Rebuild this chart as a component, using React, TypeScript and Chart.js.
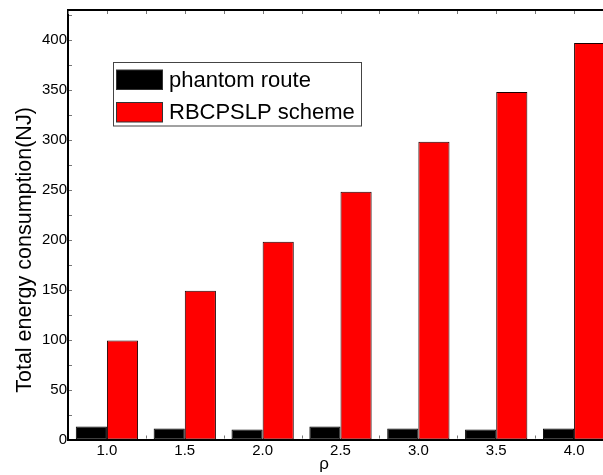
import React, { useEffect, useRef } from "react";
import { Chart, registerables } from "chart.js";

Chart.register(...registerables);

const categories = ["1.0", "1.5", "2.0", "2.5", "3.0", "3.5", "4.0"];
const phantomRoute = [13, 11, 10, 13, 11, 10, 11];
const rbcpslpScheme = [99, 149, 198, 248, 298, 348, 397];
const yTickValues = [0, 50, 100, 150, 200, 250, 300, 350, 400];
const yMinorValues = [25, 75, 125, 175, 225, 275, 325, 375, 425];
const seriesNames = ["phantom route", "RBCPSLP scheme"];
const xTitle = "ρ";
const yTitle = "Total energy consumption(NJ)";

const FONT = "'Liberation Sans', Arial, sans-serif";

const decorPlugin = {
  id: "decor",
  afterDraw(chart: any) {
    const ctx = chart.ctx;
    const area = chart.chartArea;
    const xs = chart.scales.x;
    const ys = chart.scales.y;
    ctx.save();
    // top frame
    ctx.strokeStyle = "#000";
    ctx.lineWidth = 2;
    ctx.beginPath();
    ctx.moveTo(area.left - 1, area.top);
    ctx.lineTo(area.right, area.top);
    ctx.stroke();

    // inner tick marks
    ctx.strokeStyle = "#777";
    ctx.lineWidth = 1;
    const n = categories.length;
    const step = (area.right - area.left) / n;
    ctx.beginPath();
    for (let i = 0; i <= 2 * n; i++) {
      const x = Math.round(area.left + (i * step) / 2) + 0.5;
      ctx.moveTo(x, area.top + 1);
      ctx.lineTo(x, area.top + 4);
      if (i % 2 === 0 && i > 0) {
        ctx.moveTo(x, area.bottom - 1);
        ctx.lineTo(x, area.bottom - 4);
      }
    }
    [...yTickValues, ...yMinorValues].forEach((v) => {
      const y = Math.round(ys.getPixelForValue(v)) + 0.5;
      if (y < area.top + 2 || y > area.bottom - 2) return;
      ctx.moveTo(area.left + 1, y);
      ctx.lineTo(area.left + 4, y);
    });
    ctx.stroke();

    // legend
    const lx = 113.5, ly = 62.5, lw = 248, lh = 63.5;
    ctx.fillStyle = "#fff";
    ctx.fillRect(lx, ly, lw, lh);
    ctx.strokeStyle = "#444";
    ctx.lineWidth = 1;
    ctx.strokeRect(lx, ly, lw, lh);
    const colors = ["#000000", "#ff0000"];
    const swY = [70, 102.5];
    ctx.font = `22px ${FONT}`;
    ctx.textAlign = "left";
    ctx.textBaseline = "middle";
    seriesNames.forEach((name, i) => {
      ctx.fillStyle = colors[i];
      ctx.fillRect(116.5, swY[i], 46, 19.5);
      ctx.strokeStyle = "#333";
      ctx.strokeRect(116.5, swY[i], 46, 19.5);
      ctx.fillStyle = "#000";
      ctx.fillText(name, 169, swY[i] + 10.5);
    });

    // axis titles
    ctx.fillStyle = "#000";
    ctx.font = `21.5px ${FONT}`;
    ctx.save();
    ctx.translate(30.5, 250);
    ctx.rotate(-Math.PI / 2);
    ctx.textAlign = "center";
    ctx.textBaseline = "alphabetic";
    ctx.fillText(yTitle, 0, 0);
    ctx.restore();

    ctx.font = `17px ${FONT}`;
    ctx.textAlign = "center";
    ctx.textBaseline = "alphabetic";
    ctx.fillText(xTitle, 324, 469);
    ctx.restore();
  },
};

export default function App() {
  const ref = useRef<HTMLCanvasElement>(null);
  useEffect(() => {
    if (!ref.current) return;
    const chart = new Chart(ref.current, {
      type: "bar",
      data: {
        labels: categories,
        datasets: [
          {
            label: seriesNames[0],
            data: phantomRoute,
            backgroundColor: "#000000",
            borderColor: "#000000",
            borderWidth: 1,
            borderSkipped: false,
          },
          {
            label: seriesNames[1],
            data: rbcpslpScheme,
            backgroundColor: "#ff0000",
            borderColor: "#1a0000",
            borderWidth: 1,
            borderSkipped: false,
          },
        ],
      },
      options: {
        responsive: false,
        animation: false,
        layout: { padding: { left: 0, right: 0, top: 10, bottom: 0 } },
        plugins: { legend: { display: false }, tooltip: { enabled: false } },
        datasets: { bar: { categoryPercentage: 0.8, barPercentage: 1.0 } },
        scales: {
          x: {
            type: "category",
            offset: true,
            grid: { display: false, drawTicks: false },
            border: { display: true, color: "#000", width: 2 },
            ticks: {
              color: "#000",
              font: { family: FONT, size: 15 },
              padding: 2,
              maxRotation: 0,
            },
            afterFit: (s: any) => {
              s.height = 35.5;
            },
          },
          y: {
            min: 0,
            max: 430,
            grid: { display: false, drawTicks: false },
            border: { display: true, color: "#000", width: 2 },
            afterBuildTicks: (s: any) => {
              s.ticks = yTickValues.map((v) => ({ value: v }));
            },
            ticks: {
              color: "#000",
              font: { family: FONT, size: 15 },
              padding: 1,
              callback: (v: any) => String(v),
            },
            afterFit: (s: any) => {
              s.width = 68;
            },
          },
        },
      },
      plugins: [decorPlugin],
    });
    return () => chart.destroy();
  }, []);
  return (
    <div
      style={{
        position: "absolute",
        left: 0,
        top: 0,
        width: 603,
        height: 475,
        overflow: "hidden",
        background: "#fff",
      }}
    >
      <canvas ref={ref} width={613} height={475} style={{ width: 613, height: 475, display: "block" }} />
    </div>
  );
}
